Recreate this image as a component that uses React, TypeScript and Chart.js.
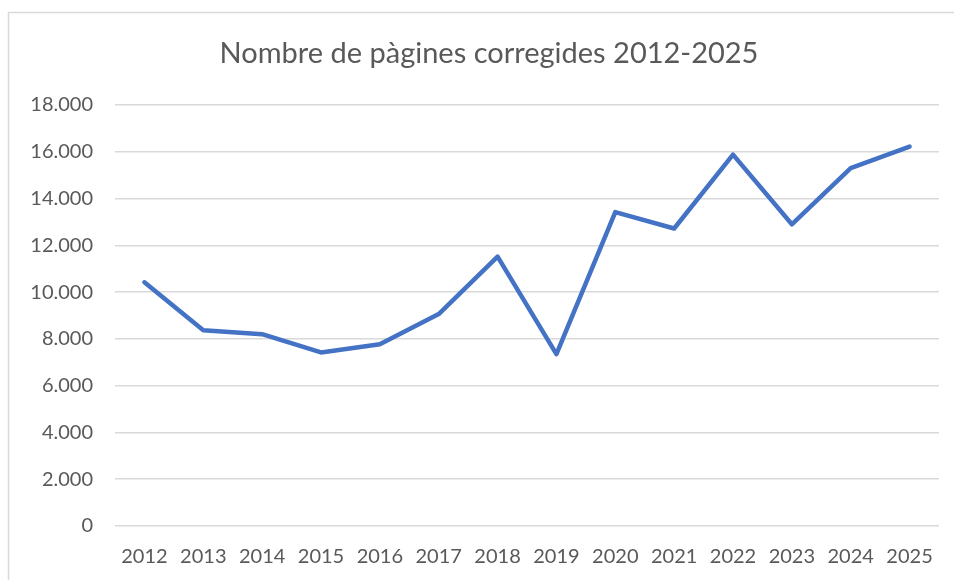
import React, { useEffect, useRef } from "react";
import { Chart, registerables } from "chart.js";

Chart.register(...registerables);

const years = ["2012","2013","2014","2015","2016","2017","2018","2019","2020","2021","2022","2023","2024","2025"];
const pages = [10420, 8370, 8200, 7420, 7770, 9060, 11520, 7350, 13420, 12720, 15880, 12900, 15300, 16220];
const yTicksMax = 18000;
const yStep = 2000;
const title = "Nombre de pàgines corregides 2012-2025";

const TEXT = "#595959";
const GRID = "#d9d9d9";
const FONT = "Lato, 'Open Sans', sans-serif";

const fmt = (v: number) => String(v).replace(/\B(?=(\d{3})+(?!\d))/g, ".");

const frame = {
  id: "frame",
  beforeDraw(chart: any) {
    const ctx = chart.ctx;
    ctx.save();
    ctx.fillStyle = "#ffffff";
    ctx.fillRect(0, 0, chart.width, chart.height);
    ctx.strokeStyle = GRID;
    ctx.lineWidth = 1.5;
    ctx.beginPath();
    ctx.moveTo(8.5, chart.height + 2);
    ctx.lineTo(8.5, 12.5);
    ctx.lineTo(chart.width + 2, 12.5);
    ctx.stroke();
    ctx.restore();
  },
  afterDraw(chart: any) {
    const ctx = chart.ctx;
    ctx.save();
    ctx.fillStyle = TEXT;
    ctx.font = `29px ${FONT}`;
    ctx.textAlign = "center";
    ctx.textBaseline = "alphabetic";
    ctx.fillText(title, 489, 63);
    ctx.restore();
  },
};

export default function App() {
  const ref = useRef<HTMLCanvasElement | null>(null);
  useEffect(() => {
    if (!ref.current) return;
    const chart = new Chart(ref.current, {
      type: "line",
      data: {
        labels: years,
        datasets: [
          {
            data: pages,
            borderColor: "#4472C4",
            borderWidth: 4.5,
            borderJoinStyle: "round",
            borderCapStyle: "round",
            pointRadius: 0,
            tension: 0,
            fill: false,
          },
        ],
      },
      options: {
        animation: false,
        responsive: true,
        maintainAspectRatio: false,
        layout: { padding: { left: 0, right: 15, top: 105, bottom: 0 } },
        plugins: {
          legend: { display: false },
          tooltip: { enabled: false },
          title: { display: false },
        },
        scales: {
          x: {
            offset: true,
            grid: { display: false, drawTicks: false },
            border: { display: false },
            ticks: { color: TEXT, font: { family: FONT, size: 20 }, padding: 19, maxRotation: 0 },
            afterFit: (s: any) => { s.height = 54; },
          },
          y: {
            min: 0,
            max: yTicksMax,
            ticks: {
              stepSize: yStep,
              color: TEXT,
              font: { family: FONT, size: 20 },
              padding: 22,
              callback: (v: any) => fmt(Number(v)),
            },
            grid: { color: GRID, lineWidth: 1.5, drawTicks: false },
            border: { display: false },
            afterFit: (s: any) => { s.width = 115; },
          },
        },
      },
      plugins: [frame],
    });
    return () => chart.destroy();
  }, []);
  return (
    <div style={{ position: "fixed", left: 0, top: 0, width: 954, height: 580, background: "#fff" }}>
      <canvas ref={ref} />
    </div>
  );
}
